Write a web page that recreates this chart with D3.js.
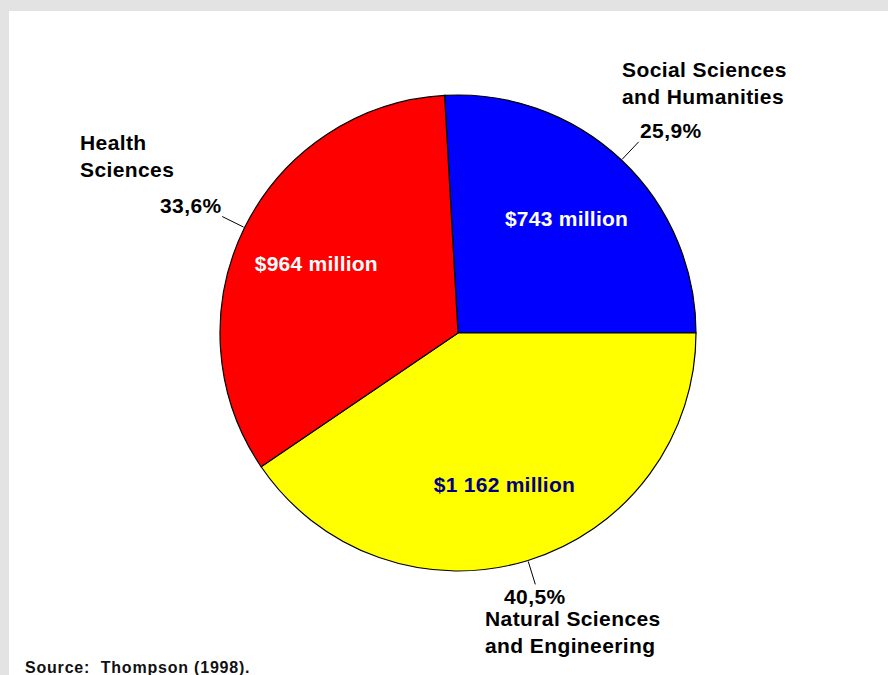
<!DOCTYPE html>
<html><head><meta charset="utf-8">
<script src="https://cdn.jsdelivr.net/npm/d3@7"></script>
<style>
html,body{margin:0;padding:0;background:#e3e3e3;}
svg{display:block;}
text{font-family:"Liberation Sans",Arial,sans-serif;font-weight:bold;}
</style></head>
<body>
<svg id="chart" width="888" height="675"></svg>
<script>
const categories = ["Social Sciences\nand Humanities", "Natural Sciences\nand Engineering", "Health\nSciences"];
const values = [743, 1162, 964];
const valueLabels = ["$743 million", "$1 162 million", "$964 million"];
const pctLabels = ["25,9%", "40,5%", "33,6%"];
const colors = ["#0000ff", "#ffff00", "#ff0000"];
const innerTextColors = ["#ffffff", "#000080", "#ffffff"];
const sourceText = "Source:  Thompson (1998).";

const svg = d3.select("#chart");
svg.append("rect").attr("x", 9).attr("y", 11).attr("width", 879).attr("height", 664).attr("fill", "#fff");

const cx = 458, cy = 333, R = 238;
const total = d3.sum(values);
const start = Math.PI / 2 - 2 * Math.PI * values[0] / total;
const pie = d3.pie().sort(null).startAngle(start).endAngle(start + 2 * Math.PI);
const arcs = pie(values);
const arc = d3.arc().innerRadius(0).outerRadius(R);
const labelArc = d3.arc().innerRadius(158).outerRadius(158);

const g = svg.append("g").attr("transform", `translate(${cx},${cy})`);
g.selectAll("path.slice").data(arcs).enter().append("path")
  .attr("class", "slice")
  .attr("d", arc)
  .attr("fill", (d, i) => colors[i])
  .attr("stroke", "#000").attr("stroke-width", 1.2);

g.selectAll("text.val").data(arcs).enter().append("text")
  .attr("class", "val")
  .attr("x", d => labelArc.centroid(d)[0])
  .attr("y", d => labelArc.centroid(d)[1])
  .attr("dy", "0.37em")
  .attr("text-anchor", "middle")
  .attr("font-size", 21)
  .attr("letter-spacing", 0.25)
  .attr("fill", (d, i) => innerTextColors[i])
  .text((d, i) => valueLabels[i]);

// leader lines
const mid = d => (d.startAngle + d.endAngle) / 2;
const pt = (a, r) => [r * Math.sin(a), -r * Math.cos(a)];
g.selectAll("line.lead").data(arcs).enter().append("line")
  .attr("class", "lead")
  .attr("x1", d => pt(mid(d), 239)[0]).attr("y1", d => pt(mid(d), 239)[1])
  .attr("x2", d => pt(mid(d), 263)[0]).attr("y2", d => pt(mid(d), 263)[1])
  .attr("stroke", "#000").attr("stroke-width", 1);

// outer labels (layout positions)
const outer = [
  {pct: [640, 138, "start"], name: [622, 77, "start"]},
  {pct: [504, 604, "start"], name: [485, 626, "start"]},
  {pct: [160, 213, "start"], name: [80, 150, "start"]}
];
outer.forEach((o, i) => {
  svg.append("text").attr("x", o.pct[0]).attr("y", o.pct[1]).attr("text-anchor", o.pct[2])
    .attr("font-size", 21).attr("letter-spacing", 0.4).attr("fill", "#000").text(pctLabels[i]);
  const lines = categories[i].split("\n");
  const t = svg.append("text").attr("font-size", 21).attr("letter-spacing", 0.4).attr("fill", "#000");
  lines.forEach((l, k) => {
    t.append("tspan").attr("x", o.name[0]).attr("y", o.name[1] + k * 27).text(l);
  });
});

svg.append("text").attr("x", 25).attr("y", 673).attr("font-size", 16).attr("letter-spacing", 0.8).attr("fill", "#111")
  .attr("xml:space", "preserve").style("white-space", "pre").text(sourceText);
</script>
</body></html>
